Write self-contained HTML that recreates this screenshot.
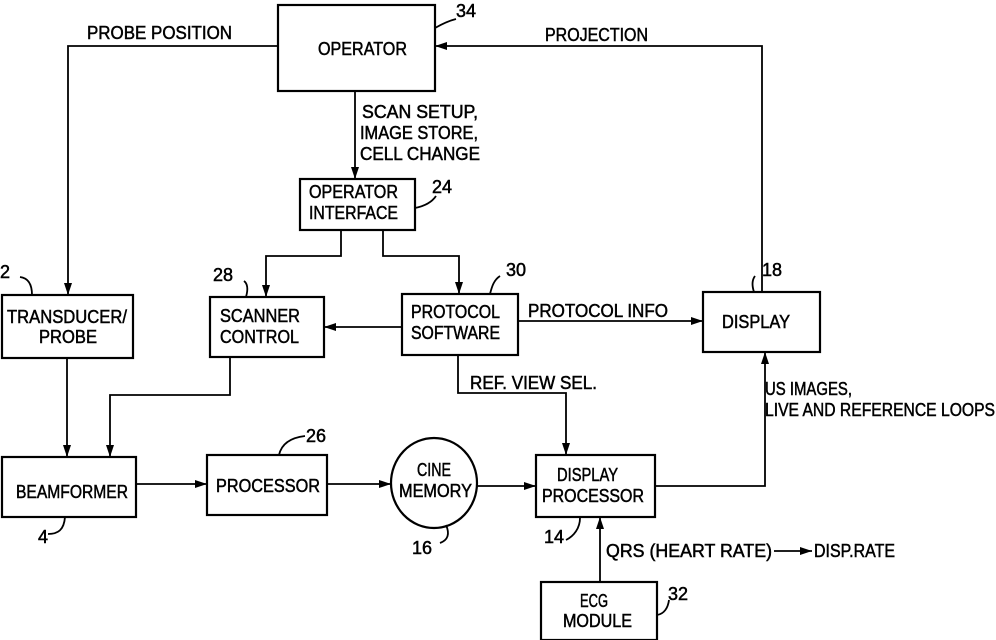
<!DOCTYPE html>
<html><head><meta charset="utf-8"><style>
html,body{margin:0;padding:0;background:#fff;}
svg{display:block;}
text{font-family:"Liberation Sans",sans-serif;font-size:18px;fill:#000;stroke:#000;stroke-width:0.5;}
</style></head><body>
<svg width="996" height="640" viewBox="0 0 996 640" xmlns="http://www.w3.org/2000/svg">
<defs><marker id="a" markerWidth="12" markerHeight="8" refX="12" refY="4" orient="auto" markerUnits="userSpaceOnUse"><path d="M0,0 L12,4 L0,8 z" fill="#000"/></marker></defs>
<g fill="none" stroke="#000" stroke-width="2.2">
<rect x="278" y="5" width="157" height="86"/>
<rect x="300" y="179" width="115" height="51"/>
<rect x="2" y="295" width="131" height="63"/>
<rect x="210" y="297" width="114" height="60"/>
<rect x="402" y="294" width="116" height="61"/>
<rect x="703" y="292" width="117" height="60"/>
<rect x="2" y="457" width="134" height="60"/>
<rect x="207" y="455" width="120" height="60"/>
<ellipse cx="434" cy="483" rx="43" ry="45"/>
<rect x="536" y="455" width="119" height="62"/>
<rect x="541" y="582" width="116" height="58"/>
</g>
<g fill="none" stroke="#000" stroke-width="1.8">
<path d="M278,46 H68 V295" marker-end="url(#a)"/>
<path d="M355,91 V179" marker-end="url(#a)"/>
<path d="M341,230 V256 H266 V297" marker-end="url(#a)"/>
<path d="M383,230 V256 H459 V294" marker-end="url(#a)"/>
<path d="M402,327 H324" marker-end="url(#a)"/>
<path d="M518,321 H703" marker-end="url(#a)"/>
<path d="M762,292 V46 H435" marker-end="url(#a)"/>
<path d="M67,358 V457" marker-end="url(#a)"/>
<path d="M230,357 V395 H110 V457" marker-end="url(#a)"/>
<path d="M136,484 H207" marker-end="url(#a)"/>
<path d="M327,484 H391" marker-end="url(#a)"/>
<path d="M477,486 H536" marker-end="url(#a)"/>
<path d="M458,355 V393 H566 V455" marker-end="url(#a)"/>
<path d="M655,486 H765 V352" marker-end="url(#a)"/>
<path d="M600,582 V517" marker-end="url(#a)"/>
<path d="M774,551 H812" marker-end="url(#a)"/>
<path d="M435,28 C442,24 448,21 456,19"/>
<path d="M415,208 C425,206 432,202 436,196"/>
<path d="M20,277 C28,278 32,284 32,295"/>
<path d="M244,281 C248,284 248,290 246,297"/>
<path d="M500,276 C494,280 492,286 490,294"/>
<path d="M755,276 C752,280 752,286 754,292"/>
<path d="M279,455 C281,446 288,438 305,436"/>
<path d="M48,534 C58,534 64,530 65,517"/>
<path d="M440,543 C448,540 450,534 446,525"/>
<path d="M566,540 C574,536 580,528 580,518"/>
<path d="M657,615 C664,614 668,608 669,600"/>
</g>
<g lengthAdjust="spacingAndGlyphs">
<text x="87" y="39" textLength="145" lengthAdjust="spacingAndGlyphs">PROBE  POSITION</text>
<text x="318" y="55" textLength="89" lengthAdjust="spacingAndGlyphs">OPERATOR</text>
<text x="456" y="17">34</text>
<text x="545" y="41" textLength="103" lengthAdjust="spacingAndGlyphs">PROJECTION</text>
<text x="362" y="118" textLength="116" lengthAdjust="spacingAndGlyphs">SCAN  SETUP,</text>
<text x="360" y="139" textLength="118" lengthAdjust="spacingAndGlyphs">IMAGE  STORE,</text>
<text x="360" y="160" textLength="120" lengthAdjust="spacingAndGlyphs">CELL  CHANGE</text>
<text x="309" y="198" textLength="89" lengthAdjust="spacingAndGlyphs">OPERATOR</text>
<text x="309" y="219" textLength="89" lengthAdjust="spacingAndGlyphs">INTERFACE</text>
<text x="432" y="193">24</text>
<text x="0" y="278">2</text>
<text x="213" y="281">28</text>
<text x="506" y="276">30</text>
<text x="762" y="276">18</text>
<text x="7" y="323" textLength="120" lengthAdjust="spacingAndGlyphs">TRANSDUCER/</text>
<text x="39" y="343" textLength="58" lengthAdjust="spacingAndGlyphs">PROBE</text>
<text x="220" y="322" textLength="80" lengthAdjust="spacingAndGlyphs">SCANNER</text>
<text x="220" y="343" textLength="79" lengthAdjust="spacingAndGlyphs">CONTROL</text>
<text x="411" y="318" textLength="89" lengthAdjust="spacingAndGlyphs">PROTOCOL</text>
<text x="411" y="339" textLength="89" lengthAdjust="spacingAndGlyphs">SOFTWARE</text>
<text x="528" y="317" textLength="140" lengthAdjust="spacingAndGlyphs">PROTOCOL  INFO</text>
<text x="722" y="328" textLength="68" lengthAdjust="spacingAndGlyphs">DISPLAY</text>
<text x="470" y="389" textLength="127" lengthAdjust="spacingAndGlyphs">REF.  VIEW  SEL.</text>
<text x="765" y="395" textLength="87" lengthAdjust="spacingAndGlyphs">US IMAGES,</text>
<text x="765" y="416" textLength="230" lengthAdjust="spacingAndGlyphs">LIVE AND REFERENCE LOOPS</text>
<text x="306" y="442">26</text>
<text x="16" y="498" textLength="112" lengthAdjust="spacingAndGlyphs">BEAMFORMER</text>
<text x="216" y="492" textLength="104" lengthAdjust="spacingAndGlyphs">PROCESSOR</text>
<text x="417" y="476" textLength="34" lengthAdjust="spacingAndGlyphs">CINE</text>
<text x="399" y="497" textLength="73" lengthAdjust="spacingAndGlyphs">MEMORY</text>
<text x="557" y="481" textLength="61" lengthAdjust="spacingAndGlyphs">DISPLAY</text>
<text x="542" y="502" textLength="102" lengthAdjust="spacingAndGlyphs">PROCESSOR</text>
<text x="38" y="543">4</text>
<text x="412" y="554">16</text>
<text x="544" y="543">14</text>
<text x="606" y="557" textLength="166" lengthAdjust="spacingAndGlyphs">QRS  (HEART RATE)</text>
<text x="814" y="557" textLength="81" lengthAdjust="spacingAndGlyphs">DISP.RATE</text>
<text x="580" y="607" textLength="28" lengthAdjust="spacingAndGlyphs">ECG</text>
<text x="563" y="627" textLength="69" lengthAdjust="spacingAndGlyphs">MODULE</text>
<text x="668" y="600">32</text>
</g>
</svg>
</body></html>
